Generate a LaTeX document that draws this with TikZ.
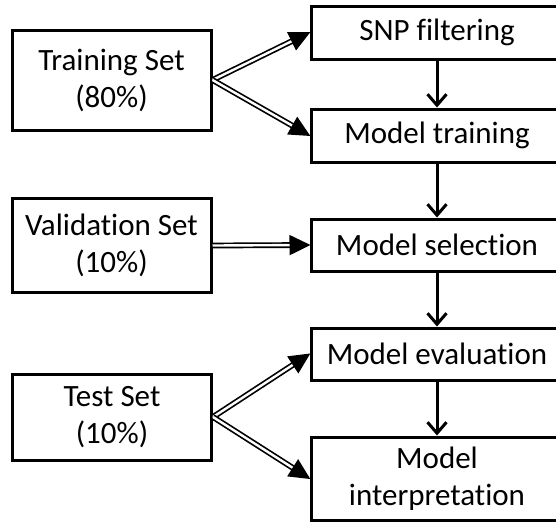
\documentclass[tikz,border=0pt]{standalone}
\usepackage{fontspec}
\setmainfont{Carlito}[Ligatures=NoCommon]
\usetikzlibrary{arrows.meta}
\begin{document}
\begin{tikzpicture}[x=1pt,y=-1pt,
  box/.style={draw, line width=3pt, inner sep=0pt, align=center,
    font=\fontsize{31}{37}\selectfont},
  lbox/.style={box, minimum width=199pt},
  rbox/.style={box, minimum width=252pt},
  dbl/.style={line width=1.7pt, double distance=2.4pt,
    -{Triangle[length=21pt,width=20pt]}, shorten >=-1pt},
  down/.style={line width=3pt, -{Straight Barb[length=11pt,width=19pt]}}]
\useasboundingbox (0,0) rectangle (556,523);
\node[lbox, minimum height=100pt] (train) at (111.5,80) {Training Set\\(80\%)};
\node[lbox, minimum height=94pt] (val) at (111.5,245.5) {Validation Set\\(10\%)};
\node[lbox, minimum height=86pt] (test) at (112,417) {Test Set\\(10\%)};
\node[rbox, minimum height=53pt] (snp) at (437,32.5) {SNP filtering};
\node[rbox, minimum height=53pt] (mtrain) at (437,135.5) {Model training};
\node[rbox, minimum height=52pt] (msel) at (437,245) {Model selection};
\node[rbox, minimum height=52pt] (meval) at (437,354) {Model evaluation};
\node[rbox, minimum height=83pt] (minterp) at (437,478.5) {Model\\interpretation};
\draw[dbl] (train.east) -- (snp.west);
\draw[dbl] (train.east) -- (mtrain.west);
\draw[dbl] (val.east) -- (msel.west);
\draw[dbl] (test.east) -- (meval.west);
\draw[dbl] (test.east) -- (minterp.west);
\draw[down] (snp) -- (mtrain);
\draw[down] (mtrain) -- (msel);
\draw[down] (msel) -- (meval);
\draw[down] (meval) -- (minterp);
\end{tikzpicture}
\end{document}
